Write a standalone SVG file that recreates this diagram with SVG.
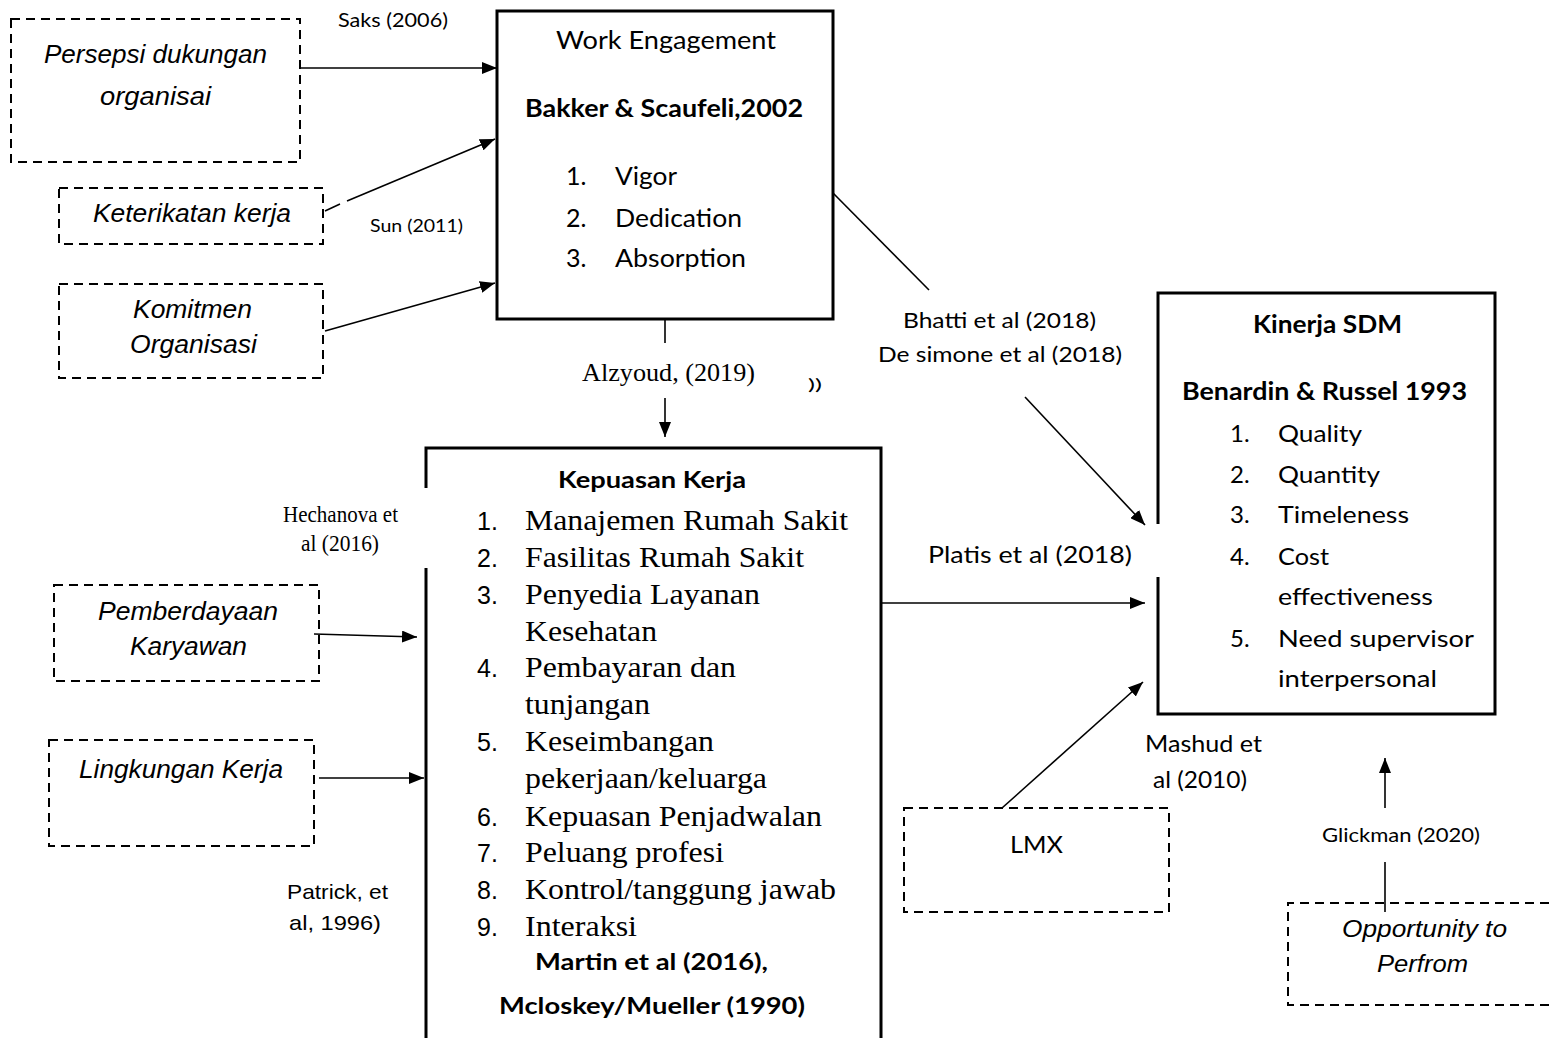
<svg xmlns="http://www.w3.org/2000/svg" width="1549" height="1038" viewBox="0 0 1549 1038">
<style>
.cal{font-family:Lato,Carlito,'Liberation Sans',sans-serif;fill:#000}
.ari{font-family:'Liberation Sans',Arial,sans-serif;fill:#000}
.tim{font-family:'Liberation Serif','Times New Roman',serif;fill:#000}
.it{font-style:italic}
.b{font-weight:bold}
.solid{fill:none;stroke:#000;stroke-width:3}
.dash{fill:none;stroke:#000;stroke-width:2;stroke-dasharray:9 6}
.conn{fill:none;stroke:#000;stroke-width:1.6}
</style>
<defs>
<marker id="ah" markerUnits="userSpaceOnUse" markerWidth="15" markerHeight="12" refX="15" refY="6" orient="auto">
<path d="M0,0 L15,6 L0,12 z" fill="#000"/>
</marker>
</defs>
<rect width="1549" height="1038" fill="#fff"/>

<g id="persepsi">
<rect class="dash" x="11" y="19" width="289" height="143"/>
<text class="ari it" x="44" y="63" font-size="25" textLength="223" lengthAdjust="spacingAndGlyphs">Persepsi dukungan</text>
<text class="ari it" x="100" y="105" font-size="25" textLength="111" lengthAdjust="spacingAndGlyphs">organisai</text>
</g>

<g id="keterikatan">
<rect class="dash" x="59" y="188" width="264" height="56"/>
<text class="ari it" x="93" y="222" font-size="25" textLength="198" lengthAdjust="spacingAndGlyphs">Keterikatan kerja</text>
</g>

<g id="komitmen">
<rect class="dash" x="59" y="284" width="264" height="94"/>
<text class="ari it" x="133" y="318" font-size="25" textLength="119" lengthAdjust="spacingAndGlyphs">Komitmen</text>
<text class="ari it" x="130" y="353" font-size="25" textLength="127" lengthAdjust="spacingAndGlyphs">Organisasi</text>
</g>

<g id="work-engagement">
<rect class="solid" x="497" y="11" width="336" height="308"/>
<text class="cal" x="556" y="49" font-size="25" textLength="220" lengthAdjust="spacingAndGlyphs">Work Engagement</text>
<text class="cal b" x="525" y="117" font-size="25" textLength="278" lengthAdjust="spacingAndGlyphs">Bakker &amp; Scaufeli,2002</text>
<text class="cal" x="566" y="185" font-size="25">1.</text>
<text class="cal" x="615" y="185" font-size="25" textLength="62" lengthAdjust="spacingAndGlyphs">Vigor</text>
<text class="cal" x="566" y="227" font-size="25">2.</text>
<text class="cal" x="615" y="227" font-size="25" textLength="127" lengthAdjust="spacingAndGlyphs">Dedication</text>
<text class="cal" x="566" y="267" font-size="25">3.</text>
<text class="cal" x="615" y="267" font-size="25" textLength="131" lengthAdjust="spacingAndGlyphs">Absorption</text>
</g>

<g id="kepuasan-kerja">
<path class="solid" d="M426,488 V448 H881 V1040 M426,568 V1040"/>
<text class="cal b" x="558" y="488" font-size="23" textLength="188" lengthAdjust="spacingAndGlyphs">Kepuasan Kerja</text>
<g class="ari" font-size="25">
<text x="477" y="530">1.</text>
<text x="477" y="567">2.</text>
<text x="477" y="604">3.</text>
<text x="477" y="677">4.</text>
<text x="477" y="751">5.</text>
<text x="477" y="826">6.</text>
<text x="477" y="862">7.</text>
<text x="477" y="899">8.</text>
<text x="477" y="936">9.</text>
</g>
<g class="tim" font-size="30">
<text x="525" y="530" textLength="323" lengthAdjust="spacingAndGlyphs">Manajemen Rumah Sakit</text>
<text x="525" y="567" textLength="279" lengthAdjust="spacingAndGlyphs">Fasilitas Rumah Sakit</text>
<text x="525" y="604" textLength="235" lengthAdjust="spacingAndGlyphs">Penyedia Layanan</text>
<text x="525" y="641" textLength="132" lengthAdjust="spacingAndGlyphs">Kesehatan</text>
<text x="525" y="677" textLength="211" lengthAdjust="spacingAndGlyphs">Pembayaran dan</text>
<text x="525" y="714" textLength="125" lengthAdjust="spacingAndGlyphs">tunjangan</text>
<text x="525" y="751" textLength="189" lengthAdjust="spacingAndGlyphs">Keseimbangan</text>
<text x="525" y="788" textLength="242" lengthAdjust="spacingAndGlyphs">pekerjaan/keluarga</text>
<text x="525" y="826" textLength="297" lengthAdjust="spacingAndGlyphs">Kepuasan Penjadwalan</text>
<text x="525" y="862" textLength="199" lengthAdjust="spacingAndGlyphs">Peluang profesi</text>
<text x="525" y="899" textLength="311" lengthAdjust="spacingAndGlyphs">Kontrol/tanggung jawab</text>
<text x="525" y="936" textLength="112" lengthAdjust="spacingAndGlyphs">Interaksi</text>
</g>
<text class="cal b" x="535" y="970" font-size="23" textLength="233" lengthAdjust="spacingAndGlyphs">Martin et al (2016),</text>
<text class="cal b" x="499" y="1014" font-size="23" textLength="306" lengthAdjust="spacingAndGlyphs">Mcloskey/Mueller (1990)</text>
</g>

<g id="kinerja-sdm">
<path class="solid" d="M1158,524 V293 H1495 V714 H1158 V577"/>
<text class="cal b" x="1253" y="333" font-size="24" textLength="149" lengthAdjust="spacingAndGlyphs">Kinerja SDM</text>
<text class="cal b" x="1182" y="400" font-size="24" textLength="285" lengthAdjust="spacingAndGlyphs">Benardin &amp; Russel 1993</text>
<g class="cal" font-size="24">
<text x="1230" y="442">1.</text>
<text x="1230" y="483">2.</text>
<text x="1230" y="523">3.</text>
<text x="1230" y="565">4.</text>
<text x="1230" y="647">5.</text>
<text x="1278" y="442" textLength="84" lengthAdjust="spacingAndGlyphs">Quality</text>
<text x="1278" y="483" textLength="102" lengthAdjust="spacingAndGlyphs">Quantity</text>
<text x="1278" y="523" textLength="131" lengthAdjust="spacingAndGlyphs">Timeleness</text>
<text x="1278" y="565" textLength="51" lengthAdjust="spacingAndGlyphs">Cost</text>
<text x="1278" y="605" textLength="155" lengthAdjust="spacingAndGlyphs">effectiveness</text>
<text x="1278" y="647" textLength="196" lengthAdjust="spacingAndGlyphs">Need supervisor</text>
<text x="1278" y="687" textLength="159" lengthAdjust="spacingAndGlyphs">interpersonal</text>
</g>
</g>

<g id="pemberdayaan">
<rect class="dash" x="54" y="585" width="265" height="96"/>
<text class="ari it" x="98" y="620" font-size="25" textLength="180" lengthAdjust="spacingAndGlyphs">Pemberdayaan</text>
<text class="ari it" x="130" y="655" font-size="25" textLength="117" lengthAdjust="spacingAndGlyphs">Karyawan</text>
</g>

<g id="lingkungan">
<rect class="dash" x="49" y="740" width="265" height="106"/>
<text class="ari it" x="79" y="778" font-size="25" textLength="204" lengthAdjust="spacingAndGlyphs">Lingkungan Kerja</text>
</g>

<g id="lmx">
<rect class="dash" x="904" y="808" width="265" height="104"/>
<text class="cal" x="1010" y="853" font-size="23" textLength="53" lengthAdjust="spacingAndGlyphs">LMX</text>
</g>

<g id="opportunity">
<path class="dash" d="M1549,903 H1288 V1005 H1549"/>
<text class="ari it" x="1342" y="937" font-size="23" textLength="165" lengthAdjust="spacingAndGlyphs">Opportunity to</text>
<text class="ari it" x="1377" y="972" font-size="23" textLength="91" lengthAdjust="spacingAndGlyphs">Perfrom</text>
</g>

<g id="connectors">
<line class="conn" x1="300" y1="68" x2="497" y2="68" marker-end="url(#ah)"/>
<line class="conn" x1="325" y1="211" x2="340" y2="204"/>
<line class="conn" x1="347" y1="201" x2="495" y2="139" marker-end="url(#ah)"/>
<line class="conn" x1="325" y1="331" x2="495" y2="283" marker-end="url(#ah)"/>
<line class="conn" x1="665" y1="319" x2="665" y2="343"/>
<line class="conn" x1="665" y1="398" x2="665" y2="437" marker-end="url(#ah)"/>
<line class="conn" x1="833" y1="193" x2="929" y2="290"/>
<line class="conn" x1="1025" y1="397" x2="1145" y2="525" marker-end="url(#ah)"/>
<line class="conn" x1="882" y1="603" x2="1145" y2="603" marker-end="url(#ah)"/>
<line class="conn" x1="314" y1="634" x2="417" y2="637" marker-end="url(#ah)"/>
<line class="conn" x1="319" y1="778" x2="424" y2="778" marker-end="url(#ah)"/>
<line class="conn" x1="1002" y1="808" x2="1143" y2="682" marker-end="url(#ah)"/>
<line class="conn" x1="1385" y1="912" x2="1385" y2="862"/>
<line class="conn" x1="1385" y1="808" x2="1385" y2="758" marker-end="url(#ah)"/>
</g>

<g id="labels">
<text class="cal" x="338" y="27" font-size="19" textLength="110" lengthAdjust="spacingAndGlyphs">Saks (2006)</text>
<text class="cal" x="370" y="232" font-size="17" textLength="93" lengthAdjust="spacingAndGlyphs">Sun (2011)</text>
<text class="tim" x="582" y="381" font-size="25" textLength="173" lengthAdjust="spacingAndGlyphs">Alzyoud, (2019)</text>
<text class="cal" x="808" y="390" font-size="16" textLength="14" lengthAdjust="spacingAndGlyphs">))</text>
<text class="cal" x="903" y="328" font-size="22" textLength="193" lengthAdjust="spacingAndGlyphs">Bhatti et al (2018)</text>
<text class="cal" x="878" y="362" font-size="22" textLength="244" lengthAdjust="spacingAndGlyphs">De simone et al (2018)</text>
<text class="cal" x="928" y="563" font-size="23" textLength="204" lengthAdjust="spacingAndGlyphs">Platis et al (2018)</text>
<text class="tim" x="283" y="522" font-size="23" textLength="115" lengthAdjust="spacingAndGlyphs">Hechanova et</text>
<text class="tim" x="301" y="551" font-size="23" textLength="78" lengthAdjust="spacingAndGlyphs">al (2016)</text>
<text class="ari" x="287" y="899" font-size="21" textLength="101" lengthAdjust="spacingAndGlyphs">Patrick, et</text>
<text class="ari" x="289" y="930" font-size="21" textLength="92" lengthAdjust="spacingAndGlyphs">al, 1996)</text>
<text class="cal" x="1145" y="752" font-size="23" textLength="117" lengthAdjust="spacingAndGlyphs">Mashud et</text>
<text class="cal" x="1153" y="788" font-size="23" textLength="94" lengthAdjust="spacingAndGlyphs">al (2010)</text>
<text class="cal" x="1322" y="842" font-size="19" textLength="158" lengthAdjust="spacingAndGlyphs">Glickman (2020)</text>
</g>
</svg>
